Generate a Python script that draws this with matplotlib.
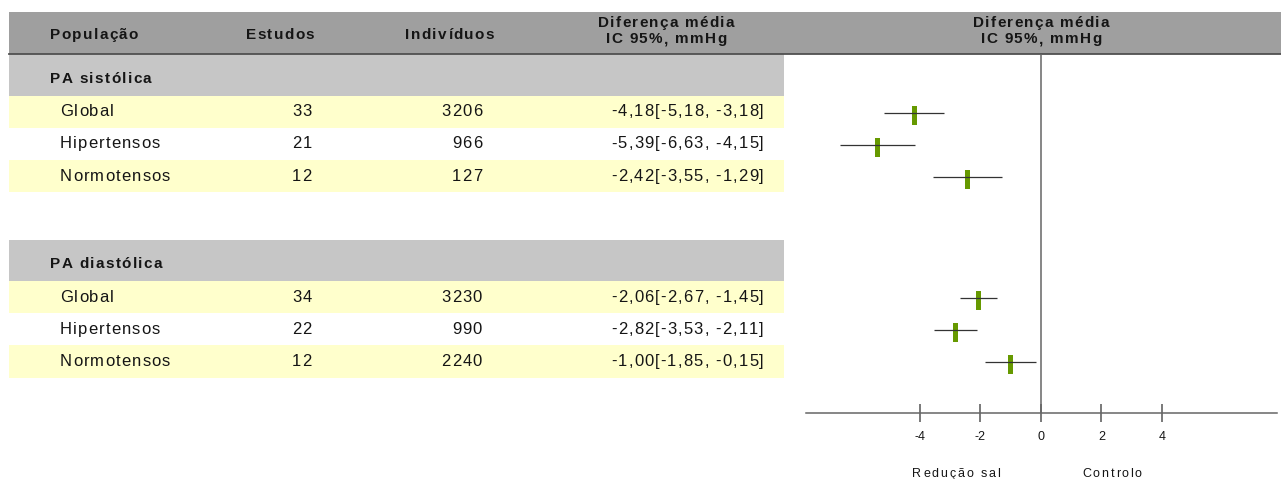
import matplotlib
matplotlib.use("Agg")
import matplotlib.pyplot as plt
from matplotlib.patches import Rectangle
from matplotlib.font_manager import FontProperties, findfont, get_font

# ======== Data ========
sections = ["PA sistólica", "PA diastólica"]
populations = ["Global", "Hipertensos", "Normotensos"]
estudos = [[33, 21, 12], [34, 22, 12]]
individuos = [[3206, 966, 127], [3230, 990, 2240]]
means = [[-4.18, -5.39, -2.42], [-2.06, -2.82, -1.00]]
lower = [[-5.18, -6.63, -3.55], [-2.67, -3.53, -1.85]]
upper = [[-3.18, -4.15, -1.29], [-1.45, -2.11, -0.15]]

col_headers = ["População", "Estudos", "Indivíduos"]
diff_header = ["Diferença média", "IC 95%, mmHg"]
x_ticks = [-4, -2, 0, 2, 4]
side_labels = ["Redução sal", "Controlo"]

# ======== Layout (pixels) ========
W, H, DPI = 1281, 479, 100
HEAD_TOP, HEAD_BOT = 12, 54
SEC_TOPS = [54, 239.5]
SEC_H = 41.5
ROW_H = 32.2
TABLE_RIGHT = 784
AX_LEFT, AX_RIGHT = 806, 1277
ZERO_PX, PX_PER_UNIT = 1040.8, 30.3
AXIS_Y = 412.7

HEAD_GRAY = "#9f9f9f"
SEC_GRAY = "#c6c6c6"
YELLOW = "#ffffcc"
TXT = "#151515"
GREEN = "#669900"

plt.rcParams["axes.unicode_minus"] = False


def tracked(ax, x, y, s, size, bold=False, ha="left", track=2.0, color=TXT):
    """Text with extra letter spacing, placed glyph by glyph (pixel coords)."""
    prop = FontProperties(family="Liberation Sans",
                          weight="bold" if bold else "normal", size=size)
    font = get_font(findfont(prop))
    font.set_size(size, DPI)
    advs = [font.load_char(ord(c)).linearHoriAdvance / 65536 for c in s]
    total = sum(advs) + track * (len(s) - 1)
    if ha == "right":
        pos = x - total
    elif ha == "center":
        pos = x - total / 2
    else:
        pos = x
    for c, a in zip(s, advs):
        if c != " ":
            ax.text(pos, y, c, fontproperties=prop,
                    ha="left", va="baseline", color=color)
        pos += a + track


fig = plt.figure(figsize=(W / DPI, H / DPI), dpi=DPI)
ax = fig.add_axes([0, 0, 1, 1])
ax.set_xlim(0, W)
ax.set_ylim(H, 0)
ax.axis("off")

# ======== Header band ========
ax.add_patch(Rectangle((9, HEAD_TOP), W - 9, HEAD_BOT - HEAD_TOP, color=HEAD_GRAY, lw=0))
ax.plot([9, W], [HEAD_BOT, HEAD_BOT], color="#505050", lw=1.3)

HB, HB_T = 11.0, 1.35  # bold header size / tracking
RG, RG_T = 12.0, 1.15  # regular row size / tracking
tracked(ax, 50, 39.3, col_headers[0], HB, bold=True, track=HB_T)
tracked(ax, 280, 39.3, col_headers[1], HB, bold=True, ha="center", track=HB_T)
tracked(ax, 449.5, 39.3, col_headers[2], HB, bold=True, ha="center", track=HB_T)
for cx in (666, 1041):
    tracked(ax, cx, 26.7, diff_header[0], HB, bold=True, ha="center", track=HB_T)
    tracked(ax, cx, 43.3, diff_header[1], HB, bold=True, ha="center", track=HB_T)

# ======== Table rows ========
row_tops = []
for si, sec in enumerate(sections):
    top = SEC_TOPS[si]
    ax.add_patch(Rectangle((9, top), TABLE_RIGHT - 9, SEC_H, color=SEC_GRAY, lw=0))
    tracked(ax, 50, top + 29, sec, HB, bold=True, track=HB_T)
    tops = []
    for ri, pop in enumerate(populations):
        rt = top + SEC_H + ri * ROW_H
        tops.append(rt)
        if ri % 2 == 0:
            ax.add_patch(Rectangle((9, rt), TABLE_RIGHT - 9, ROW_H, color=YELLOW, lw=0))
        base = rt + 20.7
        ci_txt = f"{means[si][ri]:.2f}[{lower[si][ri]:.2f}, {upper[si][ri]:.2f}]".replace(".", ",")
        tracked(ax, 60, base, pop, RG, track=RG_T)
        tracked(ax, 302, base, str(estudos[si][ri]), RG, ha="center", track=RG_T)
        tracked(ax, 482, base, str(individuos[si][ri]), RG, ha="right", track=RG_T)
        tracked(ax, 764, base, ci_txt, RG, ha="right", track=RG_T)
    row_tops.append(tops)

tracked(ax, 956, 477, side_labels[0], 9.0, ha="center", track=1.8)
tracked(ax, 1112, 477, side_labels[1], 9.0, ha="center", track=1.8)

# ======== Forest plot ========
fx = fig.add_axes([AX_LEFT / W, 0, (AX_RIGHT - AX_LEFT) / W, 1])
fx.set_facecolor("none")
fx.set_ylim(H, 0)
fx.set_xlim((AX_LEFT - ZERO_PX) / PX_PER_UNIT, (AX_RIGHT - ZERO_PX) / PX_PER_UNIT)
for s in ("left", "top", "right"):
    fx.spines[s].set_visible(False)
fx.spines["bottom"].set_position(("data", AXIS_Y))
fx.spines["bottom"].set_color("#666666")
fx.spines["bottom"].set_linewidth(1.1)
fx.set_yticks([])
fx.set_xticks(x_ticks)
fx.set_xticklabels([str(t) for t in x_ticks])
fx.tick_params(axis="x", direction="inout", length=12.7, width=1.1,
               color="#555555", pad=6.5, labelsize=9.0, labelcolor=TXT)
for lab in fx.get_xticklabels():
    lab.set_fontfamily("Liberation Sans")

fx.vlines(0, HEAD_BOT, AXIS_Y, color="#666666", lw=1.1)

for si in range(len(sections)):
    tops = row_tops[si]
    fx.hlines([t + 17 for t in tops], lower[si], upper[si], color="#333333", lw=0.9)
    fx.bar(means[si], [19] * len(tops), bottom=[t + 10 for t in tops],
           width=5 / PX_PER_UNIT, color=GREEN, lw=0)

fig.savefig("out.png", dpi=DPI)
